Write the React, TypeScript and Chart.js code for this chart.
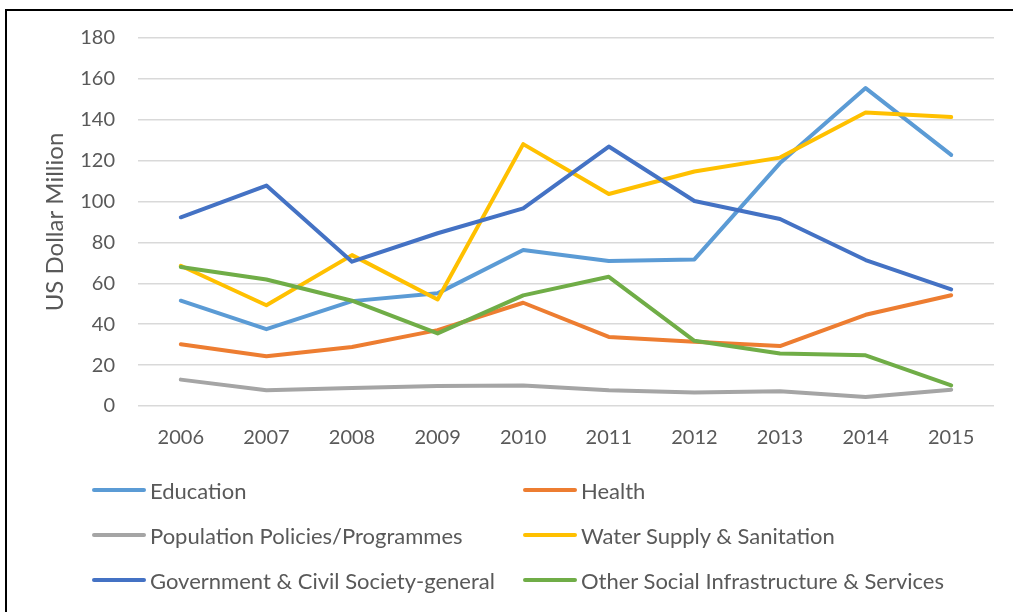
import React, { useEffect, useRef } from "react";
import { Chart, registerables } from "chart.js";

Chart.register(...registerables);

const years = ["2006", "2007", "2008", "2009", "2010", "2011", "2012", "2013", "2014", "2015"];

const education = [51.5, 37.6, 51.3, 55.1, 76.3, 70.9, 71.7, 118.8, 155.5, 122.8];
const health = [30.2, 24.3, 28.9, 37.1, 50.5, 33.8, 31.4, 29.3, 44.6, 54.2];
const population = [12.9, 7.7, 8.8, 9.8, 10.0, 7.7, 6.6, 7.2, 4.4, 8.0];
const water = [68.6, 49.3, 73.8, 52.1, 128.1, 103.7, 114.7, 121.5, 143.6, 141.3];
const government = [92.3, 107.8, 70.6, 84.5, 96.7, 126.9, 100.3, 91.5, 71.4, 57.0];
const otherSocial = [68.0, 61.9, 51.5, 35.5, 54.1, 63.2, 31.9, 25.7, 24.8, 10.1];

const seriesNames = [
  "Education",
  "Health",
  "Population Policies/Programmes",
  "Water Supply & Sanitation",
  "Government & Civil Society-general",
  "Other Social Infrastructure & Services",
];
const seriesData = [education, health, population, water, government, otherSocial];
const seriesColors = ["#5B9BD5", "#ED7D31", "#A5A5A5", "#FFC000", "#4472C4", "#70AD47"];

const yTitle = "US Dollar Million";
const FONT = "Lato, 'Open Sans', sans-serif";
const TEXT = "#595959";

export default function App() {
  const ref = useRef<HTMLCanvasElement | null>(null);

  useEffect(() => {
    if (!ref.current) return;
    const chart = new Chart(ref.current, {
      type: "line",
      data: {
        labels: years,
        datasets: seriesNames.map((name, i) => ({
          label: name,
          data: seriesData[i],
          borderColor: seriesColors[i],
          backgroundColor: seriesColors[i],
          borderWidth: 4,
          pointRadius: 0,
          borderCapStyle: "round" as const,
          borderJoinStyle: "round" as const,
          tension: 0,
          fill: false,
          order: seriesNames.length - 1 - i,
        })),
      },
      options: {
        responsive: false,
        animation: false,
        devicePixelRatio: 1,
        layout: { padding: { left: 0, top: 38, right: 19, bottom: 156 } },
        plugins: {
          legend: { display: false },
          tooltip: { enabled: false },
        },
        scales: {
          x: {
            offset: true,
            grid: { display: false, drawTicks: false },
            border: { display: false },
            ticks: {
              color: TEXT,
              font: { family: FONT, size: 20 },
              padding: 20,
              maxRotation: 0,
            },
            afterFit: (s: any) => {
              s.height = 50;
            },
          },
          y: {
            min: 0,
            max: 180,
            grid: { color: "#D9D9D9", lineWidth: 1.5, drawTicks: false },
            border: { display: false },
            ticks: {
              stepSize: 20,
              color: TEXT,
              font: { family: FONT, size: 20 },
              padding: 23,
            },
            title: {
              display: true,
              text: yTitle,
              color: TEXT,
              font: { family: FONT, size: 24 },
              padding: { top: 41, bottom: 0 },
            },
            afterFit: (s: any) => {
              s.width = 138;
            },
          },
        },
      },
    });
    return () => chart.destroy();
  }, []);

  const rows = [0, 1, 2];
  return (
    <div style={{ position: "absolute", left: 0, top: 0, width: 1013, height: 612, background: "#fff", overflow: "hidden" }}>
      <canvas ref={ref} width={1013} height={612} style={{ position: "absolute", left: 0, top: 0 }} />
      <div
        style={{
          position: "absolute",
          left: 5,
          top: 9,
          width: 1100,
          height: 700,
          borderLeft: "2px solid #000",
          borderTop: "2px solid #000",
          pointerEvents: "none",
        }}
      />
      {rows.map((r) =>
        [0, 1].map((c) => {
          const i = r * 2 + c;
          const lineLeft = c === 0 ? 92 : 523;
          const cy = 490 + r * 45;
          return (
            <div
              key={i}
              style={{
                position: "absolute",
                left: lineLeft,
                top: cy - 15,
                height: 30,
                display: "flex",
                alignItems: "center",
                whiteSpace: "nowrap",
                fontFamily: FONT,
                fontSize: 22,
                color: TEXT,
              }}
            >
              <span
                style={{
                  display: "inline-block",
                  width: 54,
                  height: 4,
                  borderRadius: 2,
                  background: seriesColors[i],
                  marginRight: 4,
                }}
              />
              <span>{seriesNames[i]}</span>
            </div>
          );
        })
      )}
    </div>
  );
}
